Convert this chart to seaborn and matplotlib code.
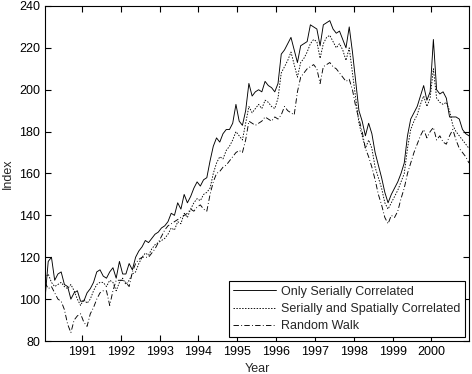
import numpy as np
import pandas as pd
import seaborn as sns
import matplotlib
matplotlib.use("Agg")
import matplotlib.pyplot as plt

# monthly index values, Jan 1990 .. Dec 2000
start_year = 1990.05
only_serial = [
    100, 118, 120, 109, 112, 113, 107, 106, 100, 103, 104, 99,
    99, 103, 105, 108, 113, 114, 111, 110, 113, 115, 110, 118,
    112, 112, 117, 114, 120, 123, 125, 128, 127, 129, 131, 132,
    134, 135, 137, 141, 140, 146, 143, 150, 146, 149, 153, 156,
    154, 157, 158, 166, 173, 177, 175, 179, 181, 181, 184, 193,
    185, 183, 190, 203, 197, 199, 200, 199, 204, 202, 201, 199,
    203, 217, 219, 222, 225, 219, 213, 221, 222, 223, 231, 230,
    229, 221, 231, 232, 233, 229, 227, 228, 224, 220, 230, 218,
    204, 190, 185, 178, 184, 179, 170, 164, 158, 151, 146, 150,
    153, 156, 160, 165, 178, 186, 189, 192, 197, 202, 195, 199,
    224, 200, 198, 199, 196, 187, 187, 187, 186, 181, 179, 178,
]
serial_spatial = [
    110, 112, 108, 106, 107, 108, 106, 105, 107, 104, 100, 97,
    100, 98, 100, 104, 107, 108, 108, 106, 109, 108, 104, 108,
    110, 107, 109, 112, 113, 117, 120, 122, 121, 124, 126, 127,
    128, 129, 131, 134, 133, 137, 136, 141, 139, 143, 146, 148,
    147, 150, 151, 153, 160, 165, 168, 167, 171, 173, 176, 180,
    178, 176, 184, 192, 189, 191, 193, 191, 195, 194, 192, 191,
    196, 208, 211, 214, 218, 212, 206, 213, 215, 218, 222, 224,
    223, 215, 222, 225, 226, 223, 220, 222, 219, 214, 220, 208,
    196, 184, 178, 172, 176, 172, 163, 158, 153, 146, 143, 146,
    149, 152, 156, 160, 172, 181, 185, 188, 193, 197, 192, 196,
    210, 196, 194, 193, 194, 190, 183, 180, 178, 176, 174, 172,
]
random_walk = [
    108, 105, 106, 103, 100, 99, 95, 88, 84, 90, 92, 93,
    89, 87, 93, 96, 100, 103, 104, 104, 97, 104, 109, 109,
    109, 108, 106, 113, 117, 119, 120, 120, 120, 122, 124, 127,
    130, 133, 135, 136, 137, 138, 139, 140, 141, 143, 142, 144,
    145, 143, 142, 150, 156, 160, 161, 163, 164, 166, 168, 170,
    171, 170, 176, 185, 184, 183, 184, 185, 187, 186, 185, 187,
    186, 188, 192, 190, 189, 188, 199, 206, 208, 210, 211, 212,
    210, 203, 211, 212, 213, 211, 210, 208, 206, 204, 205, 200,
    192, 186, 180, 172, 168, 163, 157, 150, 145, 139, 136, 140,
    139, 142, 148, 153, 160, 165, 170, 174, 178, 181, 177, 180,
    182, 176, 178, 175, 174, 178, 181, 176, 172, 170, 168, 165,
]
series_names = ["Only Serially Correlated",
                "Serially and Spatially Correlated",
                "Random Walk"]
year_ticks = list(range(1991, 2001))
index_ticks = list(range(80, 241, 20))

years = start_year + np.arange(len(only_serial)) / 12.0
df = pd.DataFrame({"year": years,
                   series_names[0]: only_serial,
                   series_names[1]: serial_spatial,
                   series_names[2]: random_walk})

sns.set_style("ticks")
plt.rcParams["font.family"] = ["Liberation Sans", "DejaVu Sans"]

fig = plt.figure(figsize=(4.72, 3.74), dpi=100)
ax = fig.add_axes([0.0953, 0.0882, 0.8983, 0.8958])

# solid / dotted / dash-dot, like the matlab defaults
styles = ["-", (0, (1.6, 1.6)), (0, (6, 2.5, 1, 2.5))]
for name, ls in zip(series_names, styles):
    sns.lineplot(data=df, x="year", y=name, ax=ax, color="black",
                 linewidth=0.65, linestyle=ls, label=name)

ax.set_xlim(years[0], years[-1])
ax.set_ylim(80, 240)
ax.set_xticks(year_ticks)
ax.set_yticks(index_ticks)
ax.tick_params(direction="in", top=True, right=True, length=4,
               width=0.8, labelsize=9, colors="black")
for sp in ax.spines.values():
    sp.set_linewidth(0.8)
    sp.set_color("black")
ax.set_xlabel("Year", fontsize=9)
ax.set_ylabel("Index", fontsize=9)

leg = ax.legend(loc="lower right", fontsize=9, frameon=True, fancybox=False,
                edgecolor="black", framealpha=1, handlelength=3.4,
                handletextpad=0.4, borderaxespad=0.35, labelspacing=0.42,
                borderpad=0.35)
leg.get_frame().set_linewidth(0.8)

fig.savefig("out.png", dpi=100)
plt.close(fig)
